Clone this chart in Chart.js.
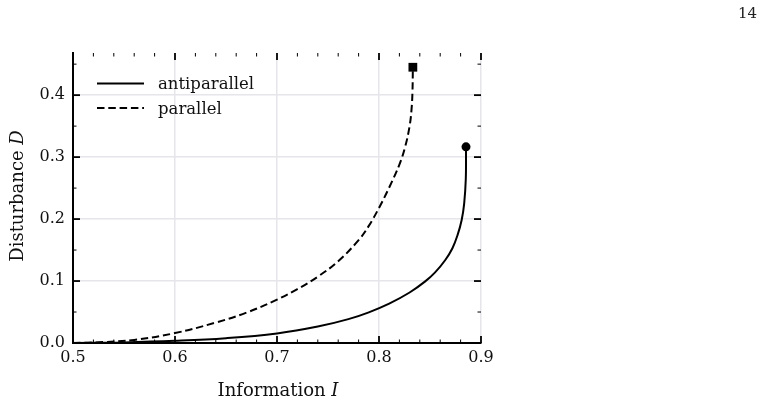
<!DOCTYPE html>
<html>
<head>
<meta charset="utf-8">
<script src="https://cdn.jsdelivr.net/npm/chart.js@4.4.0/dist/chart.umd.min.js"></script>
<style>
  body { margin: 0; background: #fff; }
  #wrap { position: relative; width: 764px; height: 403px; }
  #pageno { position: absolute; right: 7px; top: 4px; font: 15px "DejaVu Serif", serif; color: #222; }
</style>
</head>
<body>
<div id="wrap">
  <canvas id="myChart"></canvas>
  <div id="pageno">14</div>
</div>
<script>
// tick labels
var xTicks = [0.5, 0.6, 0.7, 0.8, 0.9];
var yTicks = [0.0, 0.1, 0.2, 0.3, 0.4];

// antiparallel curve (Information I, Disturbance D)
var antiI = [0.5, 0.55, 0.60, 0.65, 0.70, 0.74, 0.77, 0.79, 0.81, 0.83, 0.845, 0.855, 0.865, 0.872, 0.877, 0.881, 0.8835, 0.8851, 0.8853];
var antiD = [0.0, 0.001, 0.0035, 0.0078, 0.0155, 0.0265, 0.0385, 0.0495, 0.0635, 0.0815, 0.099, 0.114, 0.134, 0.153, 0.174, 0.198, 0.225, 0.265, 0.3166];

// parallel curve
var parI = [0.5, 0.53, 0.56, 0.60, 0.64, 0.67, 0.70, 0.72, 0.74, 0.76, 0.78, 0.79, 0.80, 0.81, 0.82, 0.8257, 0.8299, 0.8318, 0.8328, 0.8332];
var parD = [0.0, 0.0015, 0.005, 0.016, 0.033, 0.049, 0.070, 0.087, 0.107, 0.132, 0.166, 0.189, 0.218, 0.251, 0.288, 0.317, 0.349, 0.375, 0.405, 0.445];

var seriesNames = ['antiparallel', 'parallel'];

function pts(xs, ys) {
	return xs.map(function (x, i) { return { x: x, y: ys[i] }; });
}
function lastOnly(r) {
	return function (c) { return c.dataIndex === c.dataset.data.length - 1 ? r : 0; };
}

var serif = '"DejaVu Serif", serif';

// inward ticks on all four sides, legend, axis titles
var framePlugin = {
	id: 'frame',
	afterDraw: function (chart) {
		var ctx = chart.ctx;
		var a = chart.chartArea;
		var xs = chart.scales.x, ys = chart.scales.y;
		ctx.save();
		ctx.strokeStyle = '#000';
		function tick(x1, y1, x2, y2, w) {
			ctx.lineWidth = w;
			ctx.beginPath();
			ctx.moveTo(x1, y1);
			ctx.lineTo(x2, y2);
			ctx.stroke();
		}
		for (var k = 0; k <= 20; k++) {
			var v = 0.5 + k * 0.02;
			var px = xs.getPixelForValue(v);
			var major = k % 5 === 0;
			var len = major ? 7 : 3.5;
			var w = major ? 1.8 : 1;
			tick(px, a.bottom, px, a.bottom - len, w);
			tick(px, a.top, px, a.top + len, w);
		}
		for (var j = 0; j <= 9; j++) {
			var vy = j * 0.05;
			var py = ys.getPixelForValue(vy);
			var majorY = j % 2 === 0;
			var lenY = majorY ? 7 : 3.5;
			var wY = majorY ? 1.8 : 1;
			tick(a.left, py, a.left + lenY, py, wY);
			tick(a.right, py, a.right - lenY, py, wY);
		}

		// legend
		ctx.lineWidth = 2;
		ctx.beginPath();
		ctx.moveTo(97, 83.5); ctx.lineTo(144, 83.5);
		ctx.stroke();
		ctx.setLineDash([7.5, 3.8]);
		ctx.beginPath();
		ctx.moveTo(97, 108); ctx.lineTo(144, 108);
		ctx.stroke();
		ctx.setLineDash([]);
		ctx.fillStyle = '#111';
		ctx.font = '16.5px ' + serif;
		ctx.textBaseline = 'alphabetic';
		ctx.textAlign = 'left';
		ctx.fillText(seriesNames[0], 158, 89);
		ctx.fillText(seriesNames[1], 158, 113.5);

		// axis titles with italic symbol
		function title(text, sym, cx, by) {
			ctx.font = '18px ' + serif;
			var w1 = ctx.measureText(text).width;
			ctx.font = 'italic 18px ' + serif;
			var w2 = ctx.measureText(sym).width;
			var x0 = cx - (w1 + w2) / 2;
			ctx.font = '18px ' + serif;
			ctx.fillText(text, x0, by);
			ctx.font = 'italic 18px ' + serif;
			ctx.fillText(sym, x0 + w1, by);
		}
		title('Information ', 'I', (a.left + a.right) / 2 + 1, 396);
		ctx.translate(22.5, (a.top + a.bottom) / 2 - 2);
		ctx.rotate(-Math.PI / 2);
		title('Disturbance ', 'D', 0, 0);
		ctx.restore();
	}
};

var flightChart = new Chart(document.getElementById('myChart'), {
	type: 'line',
	data: {
		datasets: [{
			label: seriesNames[0],
			data: pts(antiI, antiD),
			borderColor: '#000',
			borderWidth: 2,
			tension: 0.4,
			pointStyle: 'circle',
			pointRadius: lastOnly(4.5),
			pointHoverRadius: 0,
			pointBorderWidth: 0,
			pointBackgroundColor: '#000',
			clip: false
		}, {
			label: seriesNames[1],
			data: pts(parI, parD),
			borderColor: '#000',
			borderWidth: 2,
			borderDash: [7.5, 3.8],
			tension: 0.4,
			pointStyle: 'rect',
			pointRadius: lastOnly(6.2),
			pointHoverRadius: 0,
			pointBorderWidth: 0,
			pointBackgroundColor: '#000',
			clip: false
		}]
	},
	options: {
		responsive: true,
		maintainAspectRatio: false,
		animation: false,
		events: [],
		layout: { padding: { left: 0, top: 53, right: 283, bottom: 0 } },
		plugins: { legend: { display: false }, tooltip: { enabled: false } },
		scales: {
			x: {
				type: 'linear',
				min: 0.5,
				max: 0.9,
				afterFit: function (s) { s.height = 60; },
				afterBuildTicks: function (s) { s.ticks = xTicks.map(function (v) { return { value: v }; }); },
				grid: { color: '#e6e6ea', lineWidth: 1.5, drawTicks: false },
				border: { display: true, color: '#000', width: 2 },
				ticks: {
					padding: 5,
					color: '#111',
					font: { family: serif, size: 16 },
					maxRotation: 0,
					callback: function (v) { return v.toFixed(1); }
				}
			},
			y: {
				type: 'linear',
				min: 0,
				max: 0.468,
				afterFit: function (s) { s.width = 73; },
				afterBuildTicks: function (s) { s.ticks = yTicks.map(function (v) { return { value: v }; }); },
				grid: { color: '#e6e6ea', lineWidth: 1.5, drawTicks: false },
				border: { display: true, color: '#000', width: 2 },
				ticks: {
					padding: 8,
					color: '#111',
					font: { family: serif, size: 16 },
					callback: function (v) { return v.toFixed(1); }
				}
			}
		}
	},
	plugins: [framePlugin]
});
</script>
</body>
</html>
